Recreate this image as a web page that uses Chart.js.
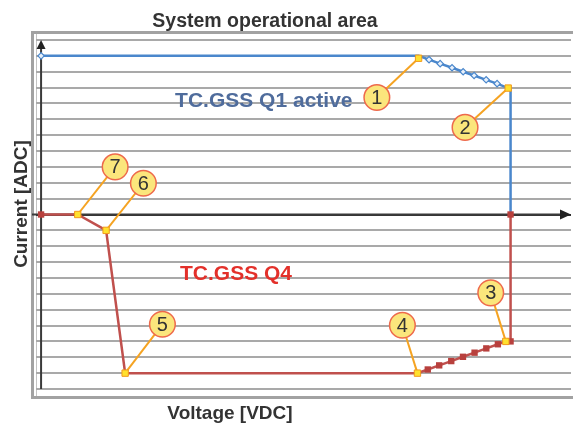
<!DOCTYPE html>
<html><head><meta charset="utf-8">
<script src="https://cdn.jsdelivr.net/npm/chart.js@4.4.1/dist/chart.umd.min.js"></script>
<style>html,body{margin:0;padding:0;background:#fff;overflow:hidden}#wrap{width:573px;height:426px}</style>
</head><body><div id="wrap"><canvas id="c" width="573" height="426"></canvas></div>
<script>
// ---- text ----
const chartTitle = 'System operational area';
const xTitle = 'Voltage [VDC]';
const yTitle = 'Current [ADC]';
const q1Label = 'TC.GSS Q1 active';
const q4Label = 'TC.GSS Q4';

// ---- Q1 (blue) boundary path ----
const q1X = [0, 23.8, 24.46, 25.16, 25.91, 26.61, 27.3, 28.06, 28.75, 29.45, 29.6, 29.6];
const q1Y = [10, 10, 9.76, 9.51, 9.25, 9.0, 8.76, 8.49, 8.25, 7.97, 7.97, 0];

// ---- Q4 (red) boundary path ----
const q4X = [0, 2.31, 4.1, 5.3, 23.73, 24.38, 25.1, 25.86, 26.6, 27.33, 28.07, 28.8, 29.3, 29.6, 29.6];
const q4Y = [0, 0, -1, -10, -10, -9.77, -9.51, -9.24, -8.97, -8.71, -8.44, -8.18, -8, -8, 0];

// ---- numbered key points and their callouts ----
const keyNames = ['1', '2', '3', '4', '5', '6', '7'];
const keyX = [23.8, 29.45, 29.3, 23.73, 5.3, 4.1, 2.31];
const keyY = [9.85, 7.97, -8, -10, -10, -1, 0];
const calloutX = [21.17, 26.73, 28.35, 22.78, 7.65, 6.45, 4.67];
const calloutY = [7.38, 5.49, -4.94, -6.98, -6.92, 1.97, 3.0];

// ---- y grid ticks ----
const yTicks = [-11, -10, -9, -8, -7, -6, -5, -4, -3, -2, -1, 0, 1, 2, 3, 4, 5, 6, 7, 8, 9, 10, 11];

const toPts = (xs, ys) => xs.map((x, i) => ({x: x, y: ys[i]}));

const q1Markers = new Set([0, 2, 3, 4, 5, 6, 7, 8]);
const q4Markers = new Set([0, 5, 6, 7, 8, 9, 10, 11, 13, 14]);

const leaderSets = keyNames.map((n, i) => ({
  data: toPts([keyX[i], calloutX[i]], [keyY[i], calloutY[i]]),
  showLine: true, borderColor: '#f5a322', borderWidth: 2, pointRadius: 0, order: 6
}));

const frameLabels = {
  id: 'frameLabels',
  beforeDraw(chart) {
    const c = chart.ctx;
    c.save();
    c.fillStyle = '#fff';
    c.fillRect(0, 0, chart.width, chart.height);
    c.strokeStyle = '#a2a2a2';
    c.lineWidth = 3;
    c.strokeRect(32.5, 32.5, 600, 365);
    c.strokeStyle = '#c4c4c4';
    c.lineWidth = 1;
    c.beginPath(); c.moveTo(36.5, 34); c.lineTo(36.5, 396); c.stroke();
    c.restore();
  },
  beforeDatasetsDraw(chart) {
    const c = chart.ctx;
    const xs = chart.scales.x, ys = chart.scales.y;
    const x0 = xs.getPixelForValue(0), y0 = ys.getPixelForValue(0);
    const a = chart.chartArea;
    c.save();
    c.strokeStyle = '#3a3a3a'; c.lineWidth = 2;
    c.beginPath(); c.moveTo(x0, a.bottom); c.lineTo(x0, a.top + 6); c.stroke();
    c.beginPath(); c.moveTo(32, y0); c.lineTo(a.right - 6, y0); c.stroke();
    c.fillStyle = '#222';
    c.beginPath(); c.moveTo(a.right, y0); c.lineTo(a.right - 11, y0 - 5); c.lineTo(a.right - 11, y0 + 5); c.closePath(); c.fill();
    c.beginPath(); c.moveTo(x0, a.top); c.lineTo(x0 - 4.5, a.top + 9); c.lineTo(x0 + 4.5, a.top + 9); c.closePath(); c.fill();
    c.restore();
  },
  afterDatasetsDraw(chart) {
    const c = chart.ctx;
    const xs = chart.scales.x, ys = chart.scales.y;
    c.save();
    // callout numbers
    const meta = chart.getDatasetMeta(chart.data.datasets.length - 1);
    c.fillStyle = '#333';
    c.font = '20px "Liberation Sans", Arial, sans-serif';
    c.textAlign = 'center'; c.textBaseline = 'middle';
    meta.data.forEach((el, i) => c.fillText(keyNames[i], el.x, el.y + 1));
    // region labels
    c.font = 'bold 21px "Liberation Sans", Arial, sans-serif';
    c.textAlign = 'left'; c.textBaseline = 'alphabetic';
    c.fillStyle = '#4f6c9c';
    c.fillText(q1Label, xs.getPixelForValue(8.45), ys.getPixelForValue(6.78));
    c.fillStyle = '#e3302a';
    c.fillText(q4Label, xs.getPixelForValue(8.76), ys.getPixelForValue(-4.14));
    c.restore();
  },
  afterDraw(chart) {
    const c = chart.ctx;
    c.save();
    c.fillStyle = '#333';
    c.textAlign = 'center'; c.textBaseline = 'alphabetic';
    c.font = 'bold 19.5px "Liberation Sans", Arial, sans-serif';
    c.fillText(chartTitle, 265, 26.5);
    c.font = 'bold 19px "Liberation Sans", Arial, sans-serif';
    c.fillText(xTitle, 230, 419);
    c.translate(27, 204); c.rotate(-Math.PI / 2);
    c.fillText(yTitle, 0, 0);
    c.restore();
  }
};

new Chart(document.getElementById('c'), {
  type: 'scatter',
  data: {
    datasets: [
      ...leaderSets,
      { data: toPts(q1X, q1Y), showLine: true, borderColor: '#4a87cc', borderWidth: 2.5,
        pointStyle: 'rectRot', pointBackgroundColor: '#e8f0fa', pointBorderColor: '#4a87cc', pointBorderWidth: 1.2,
        pointRadius: ctx => q1Markers.has(ctx.dataIndex) ? 3.2 : 0, order: 5 },
      { data: toPts(q4X, q4Y), showLine: true, borderColor: '#c0504d', borderWidth: 2.5,
        pointStyle: 'rect', pointBackgroundColor: '#b8403d', pointBorderColor: '#b8403d', pointBorderWidth: 0,
        pointRadius: ctx => q4Markers.has(ctx.dataIndex) ? 4.5 : 0, order: 4 },
      { data: toPts(keyX, keyY), showLine: false, pointStyle: 'rect', pointRadius: 4.5,
        pointBackgroundColor: '#ffe12e', pointBorderColor: '#f29a1c', pointBorderWidth: 1, order: 3 },
      { data: toPts(calloutX, calloutY), showLine: false, pointStyle: 'circle', pointRadius: 12.8,
        pointBackgroundColor: '#fbe67c', pointBorderColor: '#ee6a4c', pointBorderWidth: 1.5, order: 1 }
    ]
  },
  options: {
    responsive: false, animation: false, devicePixelRatio: 1,
    layout: { autoPadding: false, padding: { left: 36, right: 2, top: 40, bottom: 37 } },
    plugins: { legend: { display: false }, tooltip: { enabled: false }, title: { display: false } },
    scales: {
      x: { type: 'linear', min: -0.32, max: 33.41,
        afterBuildTicks: s => { s.ticks = [{ value: 0 }]; },
        ticks: { display: false }, border: { display: false },
        grid: { drawTicks: false, color: 'rgba(0,0,0,0)', lineWidth: 2 } },
      y: { type: 'linear', min: -11, max: 11,
        afterBuildTicks: s => { s.ticks = yTicks.map(v => ({ value: v })); },
        ticks: { display: false }, border: { display: false },
        grid: { drawTicks: false, color: ctx => ctx.tick && ctx.tick.value === 0 ? '#333' : '#a9a9a9', lineWidth: 2 } }
    }
  },
  plugins: [frameLabels]
});
</script></body></html>
